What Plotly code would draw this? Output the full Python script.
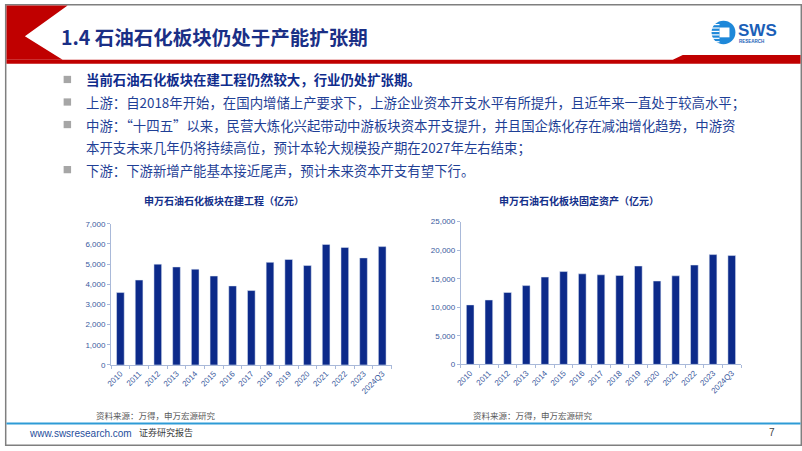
import plotly.graph_objects as go

W, H = 802, 451

categories = ["2010", "2011", "2012", "2013", "2014", "2015", "2016", "2017",
              "2018", "2019", "2020", "2021", "2022", "2023", "2024Q3"]
construction = [3590, 4210, 5000, 4860, 4750, 4410, 3920, 3690,
                5090, 5230, 4930, 5980, 5830, 5310, 5870]
fixed_assets = [10410, 11270, 12590, 13790, 15280, 16250, 15850, 15680,
                15560, 17220, 14590, 15500, 17390, 19220, 19050]
left_yticks = [0, 1000, 2000, 3000, 4000, 5000, 6000, 7000]
right_yticks = [0, 5000, 10000, 15000, 20000, 25000]

title_text = "1.4 石油石化板块仍处于产能扩张期"
bullets = [
    ("当前石油石化板块在建工程仍然较大，行业仍处扩张期。", True),
    ("上游：自2018年开始，在国内增储上产要求下，上游企业资本开支水平有所提升，且近年来一直处于较高水平；", False),
    ("中游：“十四五”以来，民营大炼化兴起带动中游板块资本开支提升，并且国企炼化存在减油增化趋势，中游资", False),
    ("本开支未来几年仍将持续高位，预计本轮大规模投产期在2027年左右结束；", False),
    ("下游：下游新增产能基本接近尾声，预计未来资本开支有望下行。", False),
]
chart1_title = "申万石油石化板块在建工程（亿元）"
chart2_title = "申万石油石化板块固定资产（亿元）"
source_text = "资料来源：万得，申万宏源研究"

NAVY = "#0C2A8A"
TXT = "#1F3F96"
TICK = "#3A5A9E"
AXL = "#A9B9D9"
RED = "#C00000"
CJK = "Noto Sans CJK SC"


def px(x):
    return x / W


def py(y):
    return 1 - y / H


fig = go.Figure()
fig.add_trace(go.Bar(x=categories, y=construction, marker_color=NAVY,
                     xaxis="x", yaxis="y", hoverinfo="skip"))
fig.add_trace(go.Bar(x=categories, y=fixed_assets, marker_color=NAVY,
                     xaxis="x2", yaxis="y2", hoverinfo="skip"))

axis_common = dict(showgrid=False, zeroline=False, showline=True, linecolor=AXL,
                   linewidth=1, ticks="outside", ticklen=3, tickcolor=AXL,
                   tickfont=dict(family="Liberation Sans", size=8, color=TICK))

fig.update_layout(
    width=W, height=H, margin=dict(l=0, r=0, t=0, b=0),
    paper_bgcolor="white", plot_bgcolor="white", showlegend=False,
    bargap=0.59,
    xaxis=dict(domain=[px(106.7), px(389)], anchor="y", tickangle=-45,
               tickson="boundaries", **axis_common),
    yaxis=dict(domain=[py(368.3), py(224.3)], anchor="x", range=[0, 7000],
               tickvals=left_yticks, tickformat=",", **axis_common),
    xaxis2=dict(domain=[px(458.7), px(740.7)], anchor="y2", tickangle=-45,
                tickson="boundaries", **axis_common),
    yaxis2=dict(domain=[py(367.7), py(222)], anchor="x2", range=[0, 25000],
                tickvals=right_yticks, tickformat=",", **axis_common),
)

shapes = []
# slide border
shapes.append(dict(type="rect", xref="paper", yref="paper", x0=px(0.7), y0=py(450.3),
                   x1=px(801.3), y1=py(0.7), line=dict(color="#7F7F7F", width=1.5)))
# red chevron header
shapes.append(dict(type="path", xref="paper", yref="paper",
                   path=f"M {px(1.5)} {py(1.5)} L {px(63)} {py(1.5)} L {px(20)} {py(33)} "
                        f"L {px(58)} {py(57)} L {px(1.5)} {py(57)} Z",
                   fillcolor=RED, line=dict(width=0)))
shapes.append(dict(type="path", xref="paper", yref="paper",
                   path=f"M {px(1.5)} {py(57)} L {px(672)} {py(57)} L {px(682)} {py(52)} "
                        f"L {px(800.5)} {py(52)} L {px(800.5)} {py(61)} L {px(1.5)} {py(61)} Z",
                   fillcolor=RED, line=dict(width=0)))
# bullet squares
for yy in [77, 100, 123, 169]:
    shapes.append(dict(type="rect", xref="paper", yref="paper", x0=px(59), x1=px(66.5),
                       y0=py(yy + 3.7), y1=py(yy - 3.7), fillcolor="#A6A6A6",
                       line=dict(width=0)))
# footer line
shapes.append(dict(type="line", xref="paper", yref="paper", x0=px(1.5), x1=px(800.5),
                   y0=py(428), y1=py(428), line=dict(color="#2E9BD6", width=2)))
# logo
shapes.append(dict(type="circle", xref="paper", yref="paper", x0=px(711), x1=px(735),
                   y0=py(41), y1=py(17), fillcolor="#1E88D9", line=dict(width=0)))
for sy in [21, 24.5, 28, 31.5, 35, 38.5]:
    shapes.append(dict(type="line", xref="paper", yref="paper", x0=px(710), x1=px(719),
                       y0=py(sy), y1=py(sy), line=dict(color="white", width=1.2)))
shapes.append(dict(type="rect", xref="paper", yref="paper", x0=px(719), x1=px(729),
                   y0=py(34), y1=py(24), fillcolor="white", line=dict(width=0)))
fig.update_layout(shapes=shapes)

ann = []
ann.append(dict(text=f"<b>{title_text}</b>", x=px(54), y=py(33), xanchor="left",
                yanchor="middle", font=dict(family=CJK, size=19.5, color="#1A2F86")))
ann.append(dict(text="<b>SWS</b>", x=px(736), y=py(27), xanchor="left", yanchor="middle",
                font=dict(family="Liberation Sans", size=17, color="#1B5FB8")))
ann.append(dict(text="<b>RESEARCH</b>", x=px(737), y=py(38.5), xanchor="left",
                yanchor="middle", font=dict(family="Liberation Sans", size=4.5, color="#1B5FB8")))
line_y = [77, 100, 123, 146, 169]
for (txt, bold), yy in zip(bullets, line_y):
    ann.append(dict(text=f"<b>{txt}</b>" if bold else txt, x=px(79), y=py(yy),
                    xanchor="left", yanchor="middle",
                    font=dict(family=CJK, size=13.4, color="#0F2C8C" if bold else TXT)))
ann.append(dict(text=f"<b>{chart1_title}</b>", x=px(220), y=py(200), xanchor="center",
                yanchor="middle", font=dict(family=CJK, size=10, color="#142F8A")))
ann.append(dict(text=f"<b>{chart2_title}</b>", x=px(578), y=py(200), xanchor="center",
                yanchor="middle", font=dict(family=CJK, size=10, color="#142F8A")))
for sx in [90, 469]:
    ann.append(dict(text=source_text, x=px(sx), y=py(419), xanchor="left", yanchor="middle",
                    font=dict(family=CJK, size=8.5, color="#595959")))
ann.append(dict(text="www.swsresearch.com", x=px(22), y=py(438), xanchor="left",
                yanchor="middle", font=dict(family="Liberation Sans", size=10, color="#1F4E9C")))
ann.append(dict(text="证券研究报告", x=px(133), y=py(437), xanchor="left", yanchor="middle",
                font=dict(family=CJK, size=9, color="#404040")))
ann.append(dict(text="7", x=px(772), y=py(437), xanchor="center", yanchor="middle",
                font=dict(family="Liberation Sans", size=10, color="#404040")))
for a in ann:
    a.update(xref="paper", yref="paper", showarrow=False)
fig.update_layout(annotations=ann)

fig.write_html("out.html", config={"displayModeBar": False},
               post_script="document.body.style.margin='0';")
